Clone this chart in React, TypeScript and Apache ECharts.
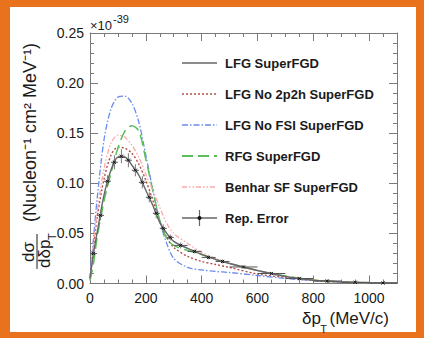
import React, { useEffect, useRef } from "react";
import * as echarts from "echarts";

const FONT = '"Liberation Sans", Arial, Helvetica, sans-serif';

// x grid of the model curves (MeV/c)
const xValues = [0, 12.5, 25, 50, 75, 100, 125, 150, 175, 200, 225, 250, 275, 300, 350, 400, 450, 500, 600, 700, 800, 900, 1000, 1100];
// values in units of 1e-39
const lfgSuperFGD = [0.005, 0.03, 0.05, 0.088, 0.113, 0.126, 0.126, 0.118, 0.108, 0.093, 0.078, 0.061, 0.05, 0.042, 0.035, 0.029, 0.024, 0.02, 0.013, 0.007, 0.0033, 0.0016, 0.0007, 0.0003];
const lfgNo2p2h = [0.005, 0.035, 0.065, 0.104, 0.128, 0.136, 0.135, 0.13, 0.119, 0.103, 0.083, 0.062, 0.046, 0.036, 0.027, 0.022, 0.019, 0.016, 0.0095, 0.006, 0.003, 0.0015, 0.0007, 0.0003];
const lfgNoFSI = [0.005, 0.045, 0.083, 0.143, 0.174, 0.186, 0.187, 0.18, 0.161, 0.128, 0.094, 0.062, 0.04, 0.025, 0.016, 0.0135, 0.012, 0.011, 0.008, 0.005, 0.003, 0.0015, 0.0007, 0.0003];
const rfgSuperFGD = [0.003, 0.02, 0.045, 0.082, 0.11, 0.135, 0.152, 0.1575, 0.152, 0.124, 0.093, 0.063, 0.045, 0.038, 0.033, 0.029, 0.024, 0.02, 0.013, 0.0075, 0.0035, 0.0017, 0.0007, 0.0003];
const benharSF = [0.005, 0.038, 0.07, 0.114, 0.14, 0.148, 0.146, 0.138, 0.126, 0.109, 0.093, 0.076, 0.06, 0.05, 0.04, 0.031, 0.025, 0.02, 0.013, 0.007, 0.0035, 0.0017, 0.0008, 0.0003];

// Rep. Error points: bin centre, value, error, half bin width
const repX = [12.5, 37.5, 62.5, 87.5, 112.5, 137.5, 162.5, 187.5, 212.5, 237.5, 262.5, 287.5, 325, 375, 425, 475, 550, 650, 750, 850, 950, 1050];
const repY = [0.03, 0.068, 0.102, 0.121, 0.127, 0.123, 0.113, 0.101, 0.086, 0.07, 0.055, 0.046, 0.038, 0.032, 0.026, 0.022, 0.0165, 0.01, 0.005, 0.0025, 0.0012, 0.0005];
const repErr = [0.004, 0.005, 0.006, 0.007, 0.007, 0.007, 0.006, 0.006, 0.005, 0.005, 0.004, 0.003, 0.003, 0.002, 0.002, 0.002, 0.0015, 0.001, 0.001, 0.0008, 0.0005, 0.0004];
const repHalf = [12.5, 12.5, 12.5, 12.5, 12.5, 12.5, 12.5, 12.5, 12.5, 12.5, 12.5, 12.5, 25, 25, 25, 25, 50, 50, 50, 50, 50, 50];

const seriesNames = ["LFG SuperFGD", "LFG No 2p2h SuperFGD", "LFG No FSI SuperFGD", "RFG SuperFGD", "Benhar SF SuperFGD", "Rep. Error"];
const seriesColors = ["#666666", "#b0504a", "#6a8cf0", "#5cbf5c", "#ffa8a8", "#666666"];
const seriesDash: (number[] | "solid")[] = ["solid", [2, 2], [6, 2, 1.5, 2], [11, 5], [5, 2, 1.5, 2, 1.5, 2], "solid"];
const seriesWidth = [1.4, 1.4, 1.3, 1.5, 1.3, 1.2];
const curveData = [lfgSuperFGD, lfgNo2p2h, lfgNoFSI, rfgSuperFGD, benharSF];

export default function App() {
  const ref = useRef<HTMLDivElement>(null);
  useEffect(() => {
    const chart = echarts.init(ref.current!, null, { renderer: "svg" });
    const axisColor = "#7a7a7a";
    const baseX = {
      type: "value",
      min: 0,
      max: 1100,
      interval: 200,
      axisLine: { show: true, onZero: false, lineStyle: { color: axisColor, width: 1 } },
      axisTick: { show: true, inside: true, length: 8, lineStyle: { color: axisColor } },
      minorTick: { show: true, splitNumber: 4, length: 4, lineStyle: { color: axisColor } },
      splitLine: { show: false },
      minorSplitLine: { show: false },
    };
    const baseY = {
      type: "value",
      min: 0,
      max: 0.25,
      interval: 0.05,
      axisLine: { show: true, onZero: false, lineStyle: { color: axisColor, width: 1 } },
      axisTick: { show: true, inside: true, length: 8, lineStyle: { color: axisColor } },
      minorTick: { show: true, splitNumber: 5, length: 4, lineStyle: { color: axisColor } },
      splitLine: { show: false },
      minorSplitLine: { show: false },
    };

    const legendTop = 63;
    const legendStep = 31;
    const legendElems: any[] = [];
    seriesNames.forEach((name, i) => {
      const y = legendTop + i * legendStep;
      legendElems.push({
        type: "line",
        shape: { x1: 182, y1: y, x2: 217, y2: y },
        style: {
          stroke: seriesColors[i],
          lineWidth: i === 5 ? 1.6 : seriesWidth[i] + 0.3,
          lineDash: seriesDash[i] === "solid" ? null : seriesDash[i],
        },
      });
      legendElems.push({
        type: "text",
        x: 225,
        y: y,
        style: {
          text: name,
          font: `bold 13px ${FONT}`,
          fill: "#1a1a1a",
          align: "left",
          verticalAlign: "middle",
          textAlign: "left",
          textVerticalAlign: "middle",
        },
      });
    });
    const ry = legendTop + 5 * legendStep;
    legendElems.push({ type: "line", shape: { x1: 199.5, y1: ry - 8, x2: 199.5, y2: ry + 8 }, style: { stroke: "#666", lineWidth: 1.2 } });
    legendElems.push({ type: "circle", shape: { cx: 199.5, cy: ry, r: 2 }, style: { fill: "#111" } });

    const txt = (text: string, x: number, y: number, size: number, align: string, vAlign: string, rotation = 0, extra: any = {}) => ({
      type: "text",
      x,
      y,
      rotation,
      style: {
        text,
        font: `${size}px ${FONT}`,
        fill: "#1a1a1a",
        align,
        verticalAlign: vAlign,
        textAlign: align,
        textVerticalAlign: vAlign,
        ...extra,
      },
    });

    const R = Math.PI / 2;
    const graphics: any[] = [
      // orange frame
      { type: "rect", shape: { x: 0, y: 0, width: 424, height: 7 }, style: { fill: "#e8731c" } },
      { type: "rect", shape: { x: 0, y: 332, width: 424, height: 6 }, style: { fill: "#e8731c" } },
      { type: "rect", shape: { x: 0, y: 0, width: 10, height: 338 }, style: { fill: "#e8731c" } },
      { type: "rect", shape: { x: 416, y: 0, width: 8, height: 338 }, style: { fill: "#e8731c" } },
      // exponent
      txt("×10", 90, 32, 13, "left", "bottom"),
      txt("-39", 113, 24, 11, "left", "bottom"),
      // y title
      txt("dσ", 28, 252, 17, "center", "middle", R),
      { type: "line", shape: { x1: 37, y1: 234, x2: 37, y2: 269 }, style: { stroke: "#1a1a1a", lineWidth: 1 } },
      txt("dδp", 44, 268, 17, "left", "middle", R),
      txt("T", 52, 240, 11, "left", "middle", R),
      txt("(Nucleon⁻¹ cm² MeV⁻¹)", 30, 222, 18, "left", "middle", R),
      // x title
      txt("(MeV/c)", 389, 318, 17, "right", "middle"),
      txt("T", 327, 329, 11, "right", "middle"),
      txt("δp", 321, 318, 17, "right", "middle"),
      ...legendElems,
    ];

    const series: any[] = curveData.map((arr, i) => ({
      name: seriesNames[i],
      type: "line",
      data: xValues.map((x, j) => [x, arr[j]]),
      showSymbol: false,
      smooth: 0.3,
      lineStyle: { color: seriesColors[i], width: seriesWidth[i], type: seriesDash[i] },
      z: i === 0 ? 3 : 2,
    }));
    series.push({
      name: seriesNames[5],
      type: "custom",
      data: repX.map((x, i) => [x, repY[i], repErr[i], repHalf[i]]),
      encode: { x: 0, y: 1 },
      z: 4,
      renderItem: (params: any, api: any) => {
        const x = api.value(0);
        const y = api.value(1);
        const e = api.value(2);
        const h = api.value(3);
        const c = api.coord([x, y]);
        const l = api.coord([x - h, y]);
        const r = api.coord([x + h, y]);
        const t = api.coord([x, y + e]);
        const b = api.coord([x, y - e]);
        const s = 1.6;
        return {
          type: "group",
          children: [
            { type: "line", shape: { x1: l[0], y1: l[1], x2: r[0], y2: r[1] }, style: { stroke: "#555", lineWidth: 1 } },
            { type: "line", shape: { x1: t[0], y1: t[1], x2: b[0], y2: b[1] }, style: { stroke: "#777", lineWidth: 1 } },
            { type: "line", shape: { x1: c[0] - s, y1: c[1] - s, x2: c[0] + s, y2: c[1] + s }, style: { stroke: "#111", lineWidth: 1 } },
            { type: "line", shape: { x1: c[0] - s, y1: c[1] + s, x2: c[0] + s, y2: c[1] - s }, style: { stroke: "#111", lineWidth: 1 } },
          ],
        };
      },
    });

    chart.setOption({
      animation: false,
      backgroundColor: "#ffffff",
      grid: { left: 90, top: 33, right: 27, bottom: 54.5, containLabel: false },
      xAxis: [
        {
          ...baseX,
          position: "bottom",
          axisLabel: {
            show: true,
            fontSize: 14,
            color: "#1a1a1a",
            fontFamily: FONT,
            margin: 7,
            showMaxLabel: false,
            formatter: (v: number) => String(v),
          },
        },
        { ...baseX, position: "top", axisLabel: { show: false } },
      ],
      yAxis: [
        {
          ...baseY,
          position: "left",
          axisLabel: {
            show: true,
            fontSize: 14,
            color: "#1a1a1a",
            fontFamily: FONT,
            margin: 6,
            formatter: (v: number) => v.toFixed(2),
          },
        },
        { ...baseY, position: "right", axisLabel: { show: false } },
      ],
      series,
      graphic: graphics,
    });
    return () => chart.dispose();
  }, []);
  return <div ref={ref} style={{ position: "fixed", left: 0, top: 0, width: 424, height: 338 }} />;
}
